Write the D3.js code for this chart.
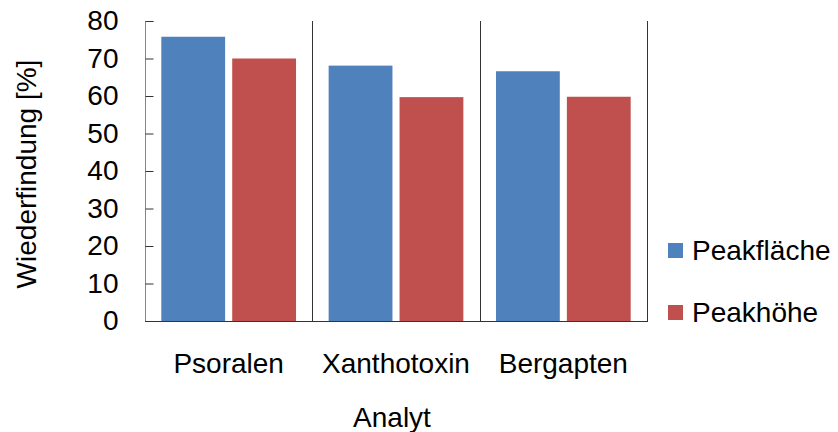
<!DOCTYPE html>
<html>
<head>
<meta charset="utf-8">
<script src="https://cdn.jsdelivr.net/npm/d3@7"></script>
<style>
  html, body { margin: 0; padding: 0; background: #fff; }
  svg { display: block; font-family: "Liberation Sans", Arial, sans-serif; }
</style>
</head>
<body>
<svg id="chart" width="838" height="432"></svg>
<script>
// Recovery of three furocoumarins, evaluated by peak area and peak height
const categories = ["Psoralen", "Xanthotoxin", "Bergapten"];
const seriesNames = ["Peakfläche", "Peakhöhe"];
const peakflaeche = [75.8, 68.1, 66.6];
const peakhoehe = [70.0, 59.7, 59.8];
const yTicks = [0, 10, 20, 30, 40, 50, 60, 70, 80];
const colors = ["#4F81BD", "#C0504D"];

const svg = d3.select("#chart");
const plotLeft = 145, plotRight = 647, plotTop = 21, plotBottom = 321;
const fontSize = 28;

const x = d3.scaleBand().domain(categories).range([plotLeft, plotRight]).paddingInner(0).paddingOuter(0);
const xs = d3.scaleBand().domain(seriesNames).range([0, x.bandwidth()])
  .paddingInner(0.1).paddingOuter(0.23);
const y = d3.scaleLinear().domain([0, 80]).range([plotBottom, plotTop]);

const rows = categories.map((c, i) => ({ cat: c, vals: [peakflaeche[i], peakhoehe[i]] }));

// Bars
const groups = svg.append("g").selectAll("g").data(rows).join("g")
  .attr("transform", d => `translate(${x(d.cat)},0)`);
groups.selectAll("rect").data(d => d.vals.map((v, k) => ({ v, k })))
  .join("rect")
  .attr("x", d => xs(seriesNames[d.k]))
  .attr("width", xs.bandwidth())
  .attr("y", d => y(d.v))
  .attr("height", d => y(0) - y(d.v))
  .attr("fill", d => colors[d.k]);

// Category separators and right frame edge
const seps = categories.map(c => Math.round(x(c) + x.bandwidth()));
svg.append("g").selectAll("line").data(seps).join("line")
  .attr("x1", d => d + 0.5).attr("x2", d => d + 0.5)
  .attr("y1", plotTop).attr("y2", plotBottom)
  .attr("stroke", "#333").attr("stroke-width", 1);

// Y axis with inward ticks
const yAxis = d3.axisLeft(y).tickValues(yTicks).tickSize(-8).tickPadding(27);
const gy = svg.append("g").attr("transform", `translate(${plotLeft + 0.5},0)`).call(yAxis);
gy.select(".domain").attr("stroke", "#868686").attr("d", `M8,${plotTop + 0.5}H0V${plotBottom + 0.5}`);
gy.selectAll(".tick line").attr("stroke", "#333");
gy.selectAll(".tick text").attr("font-size", fontSize).attr("fill", "#000")
  .attr("font-family", "Liberation Sans, Arial, sans-serif");

// X axis baseline
svg.append("line").attr("x1", plotLeft).attr("x2", plotRight + 1)
  .attr("y1", plotBottom + 0.5).attr("y2", plotBottom + 0.5)
  .attr("stroke", "#333");

// Category labels
svg.append("g").selectAll("text").data(categories).join("text")
  .attr("x", d => x(d) + x.bandwidth() / 2)
  .attr("y", 373)
  .attr("text-anchor", "middle")
  .attr("font-size", fontSize)
  .text(d => d);

// Axis titles
svg.append("text").attr("x", 392).attr("y", 427)
  .attr("text-anchor", "middle").attr("font-size", fontSize).text("Analyt");
svg.append("text")
  .attr("transform", "translate(36,174) rotate(-90)")
  .attr("text-anchor", "middle").attr("font-size", fontSize).text("Wiederfindung [%]");

// Legend
const legend = svg.append("g").selectAll("g").data(seriesNames).join("g")
  .attr("transform", (d, i) => `translate(668,${243 + i * 62})`);
legend.append("rect").attr("width", 15).attr("height", 15).attr("fill", (d, i) => colors[i]);
legend.append("text").attr("x", 24).attr("y", 17).attr("font-size", fontSize).text(d => d);
</script>
</body>
</html>
